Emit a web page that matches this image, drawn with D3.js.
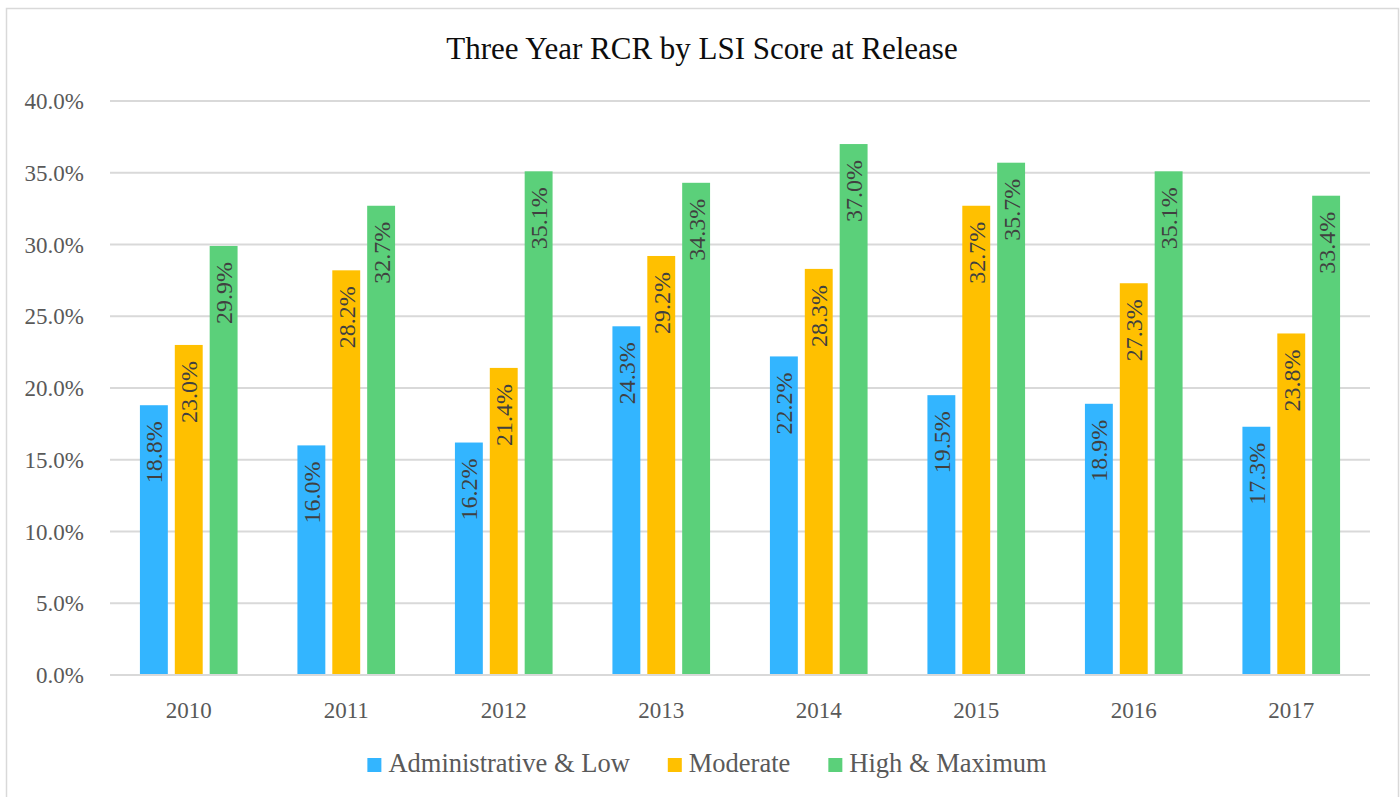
<!DOCTYPE html>
<head>
  <meta charset="utf-8">
  <script src='https://d3js.org/d3.v7.min.js'></script>
  <style>
    body {
      font-family: "Liberation Serif", "DejaVu Serif", serif;
      margin: 0;
      background: #fff;
    }
  </style>
</head>

<body>
<div id='vis'></div>

<script>
const years = ['2010', '2011', '2012', '2013', '2014', '2015', '2016', '2017'];
const seriesNames = ['Administrative & Low', 'Moderate', 'High & Maximum'];
const adminLow = [0.188, 0.160, 0.162, 0.243, 0.222, 0.195, 0.189, 0.173];
const moderate = [0.230, 0.282, 0.214, 0.292, 0.283, 0.327, 0.273, 0.238];
const highMax  = [0.299, 0.327, 0.351, 0.343, 0.370, 0.357, 0.351, 0.334];
const yTicks = [0, 0.05, 0.10, 0.15, 0.20, 0.25, 0.30, 0.35, 0.40];

const colours = ['#33B5FF', '#FFC000', '#5BD07A'];
const seriesValues = [adminLow, moderate, highMax];

const width = 1400;
const height = 797;
const margin = { left: 110, right: 30, top: 101, bottom: 122 };

const svg = d3.select('#vis')
  .append('svg')
  .attr('width', width)
  .attr('height', height);

// chart frame
svg.append('rect')
  .attr('x', 6.5)
  .attr('y', 8.5)
  .attr('width', 1392)
  .attr('height', 800)
  .attr('fill', '#fff')
  .attr('stroke', '#d9d9d9')
  .attr('stroke-width', 1.5);

svg.append('text')
  .attr('x', 702)
  .attr('y', 59)
  .attr('text-anchor', 'middle')
  .style('font-size', '31px')
  .attr('fill', '#0d0d0d')
  .text('Three Year RCR by LSI Score at Release');

const x0 = d3.scaleBand()
  .domain(years)
  .range([margin.left, width - margin.right])
  .paddingInner(0.38)
  .paddingOuter(0.19);

const x1 = d3.scaleBand()
  .domain(seriesNames)
  .range([0, x0.bandwidth()])
  .paddingInner(0.2);

const y = d3.scaleLinear()
  .domain([0, 0.4])
  .range([height - margin.bottom, margin.top]);

const pct = d3.format('.1%');

// gridlines
svg.append('g')
  .selectAll('line')
  .data(yTicks)
  .enter()
  .append('line')
  .attr('x1', margin.left)
  .attr('x2', width - margin.right)
  .attr('y1', d => y(d))
  .attr('y2', d => y(d))
  .attr('stroke', '#d9d9d9')
  .attr('stroke-width', 2);

// y tick labels
svg.append('g')
  .selectAll('text')
  .data(yTicks)
  .enter()
  .append('text')
  .attr('x', 84)
  .attr('y', d => y(d))
  .attr('dy', '0.35em')
  .attr('text-anchor', 'end')
  .style('font-size', '23px')
  .attr('fill', '#595959')
  .text(d => pct(d));

// x labels
svg.append('g')
  .selectAll('text')
  .data(years)
  .enter()
  .append('text')
  .attr('x', d => x0(d) + x0.bandwidth() / 2)
  .attr('y', 718)
  .attr('text-anchor', 'middle')
  .style('font-size', '23px')
  .attr('fill', '#595959')
  .text(d => d);

const rows = [];
years.forEach((yr, i) => {
  seriesNames.forEach((s, j) => {
    rows.push({ year: yr, series: s, idx: j, value: seriesValues[j][i] });
  });
});

const groups = svg.append('g')
  .selectAll('g')
  .data(rows)
  .enter()
  .append('g');

groups.append('rect')
  .attr('x', d => x0(d.year) + x1(d.series))
  .attr('y', d => y(d.value))
  .attr('width', x1.bandwidth())
  .attr('height', d => y(0) - y(d.value) - 1)
  .attr('fill', d => colours[d.idx]);

groups.append('text')
  .attr('transform', d => {
    const cx = x0(d.year) + x1(d.series) + x1.bandwidth() / 2;
    return `translate(${cx},${y(d.value) + 16}) rotate(-90)`;
  })
  .attr('dy', '0.35em')
  .attr('text-anchor', 'end')
  .style('font-size', '24px')
  .attr('fill', '#404040')
  .text(d => pct(d.value));

// legend
const legend = svg.append('g');
let lx = 0;
seriesNames.forEach((s, j) => {
  const item = legend.append('g').attr('transform', `translate(${lx},0)`);
  item.append('rect')
    .attr('x', 0)
    .attr('y', 758)
    .attr('width', 14)
    .attr('height', 14)
    .attr('fill', colours[j]);
  const t = item.append('text')
    .attr('x', 21)
    .attr('y', 772)
    .style('font-size', '26.5px')
    .attr('fill', '#595959')
    .text(s);
  lx += 21 + t.node().getComputedTextLength() + 38;
});
const legendWidth = lx - 38;
legend.attr('transform', `translate(${707 - legendWidth / 2},0)`);
</script>
</body>
